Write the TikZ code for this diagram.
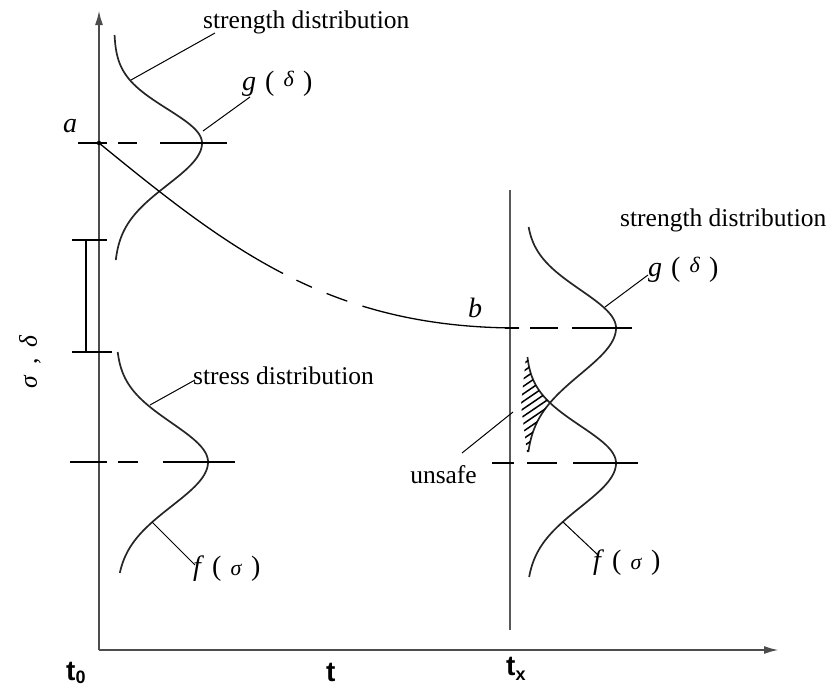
\documentclass[tikz,border=0pt]{standalone}
\usepackage{fontspec}
\setmainfont{Liberation Serif}
\newfontfamily\labsans{Liberation Sans}
\usetikzlibrary{arrows.meta}
\begin{document}
\begin{tikzpicture}[x=1pt,y=-1pt,
  axisline/.style={line width=2.2pt, draw=black!70},
  curve/.style={line width=1.7pt, draw=black!85},
  leader/.style={line width=1pt, draw=black},
  guide/.style={line width=1.5pt, draw=black},
  hatch/.style={line width=1.5pt, draw=black},
  lbl/.style={inner sep=0pt, font=\fontsize{25.5}{27}\selectfont},
  mlbl/.style={inner sep=0pt, font=\fontsize{28}{30}\selectfont},
  tlbl/.style={inner sep=0pt, font=\labsans\bfseries\fontsize{28}{30}\selectfont}
]
\useasboundingbox (0,0) rectangle (835,688);

% axes
\coordinate (O) at (99,650);
\coordinate (ytop) at (99,10);
\coordinate (xend) at (779,650);
\draw[axisline, -{Latex[length=15pt,width=8pt]}] (O) -- (ytop);
\draw[axisline, -{Latex[length=15pt,width=8pt]}] (O) -- (xend);

% vertical line at tx
\coordinate (txtop) at (510,190);
\coordinate (txbot) at (510,630);
\draw[line width=1.6pt, draw=black!65] (txtop) -- (txbot);

% left strength distribution g(delta)
\draw[curve] plot[domain=35:143, samples=60, variable=\y] ({114+88*exp(0-((\y-143)/34)*((\y-143)/34)/2)}, \y);
\draw[curve] plot[domain=143:260, samples=60, variable=\y] ({114+88*exp(0-((\y-143)/42)*((\y-143)/42)/2)}, \y);

% left stress distribution f(sigma)
\draw[curve] plot[domain=352:462, samples=60, variable=\y] ({116+92*exp(0-((\y-462)/39)*((\y-462)/39)/2)}, \y);
\draw[curve] plot[domain=462:573, samples=60, variable=\y] ({116+92*exp(0-((\y-462)/44)*((\y-462)/44)/2)}, \y);

% right strength distribution
\draw[curve] plot[domain=227:328, samples=60, variable=\y] ({526+90*exp(0-((\y-328)/38)*((\y-328)/38)/2)}, \y);
\draw[curve] plot[domain=328:452, samples=60, variable=\y] ({526+90*exp(0-((\y-328)/46)*((\y-328)/46)/2)}, \y);

% right stress distribution
\draw[curve] plot[domain=357:463, samples=60, variable=\y] ({526+90*exp(0-((\y-463)/37)*((\y-463)/37)/2)}, \y);
\draw[curve] plot[domain=463:577, samples=60, variable=\y] ({526+90*exp(0-((\y-463)/44)*((\y-463)/44)/2)}, \y);

% hatched unsafe region
\begin{scope}
\clip plot[domain=357:403, samples=30, variable=\y] ({526+90*exp(0-((\y-463)/37)*((\y-463)/37)/2)}, \y)
  -- plot[domain=403:452, samples=30, variable=\y] ({526+90*exp(0-((\y-328)/46)*((\y-328)/46)/2)}, \y)
  -- (527,453) -- (521,405) -- (526,356) -- cycle;
\foreach \k in {0,...,18}{
  \draw[hatch] (512,{364+7.5*\k}) -- (562,{330+7.5*\k});
}
\end{scope}

% dashed level lines
\draw[guide] (78,143) -- (107,143);
\draw[guide] (118,143) -- (137,143);
\draw[guide] (160,143) -- (227,143);

\draw[guide] (70,462) -- (107,462);
\draw[guide] (118,462) -- (138,462);
\draw[guide] (163,462) -- (235,462);

\draw[guide] (505,328) -- (519,328);
\draw[guide] (530,328) -- (558,328);
\draw[guide] (572,328) -- (632,328);

\draw[guide] (492,463) -- (514,463);
\draw[guide] (527,463) -- (557,463);
\draw[guide] (573,463) -- (638,463);

% interval marker
\draw[guide] (72,240) -- (107,240);
\draw[guide] (72,352) -- (112,352);
\draw[guide] (86,240) -- (86,352);

% degradation curve a -> b
\coordinate (pa) at (99,143);
\coordinate (pb) at (519,328);
\fill (pa) circle (2.2pt);
\draw[line width=1.3pt, dash pattern=on 226pt off 15pt on 17pt off 16pt on 22pt off 16pt on 400pt]
  (pa) .. controls (230,250) and (330,328) .. (pb);

% labels
\node[mlbl, anchor=base west] (la) at (63,132) {\textit{a}};
\node[mlbl, anchor=base west] (lb) at (468,317) {\textit{b}};

\node[lbl, anchor=base west] (sd1) at (203,28) {strength distribution};
\node[lbl, anchor=base west] (sd2) at (620,226) {strength distribution};
\node[lbl, anchor=base west] (st1) at (193,384) {stress distribution};
\node[lbl, anchor=base east] (uns) at (477,483) {unsafe};

\node[mlbl, anchor=base west] (g1) at (242,90) {\textit{g}\hspace{9pt}(\hspace{9pt}\raisebox{4pt}{\fontsize{22}{24}\selectfont\textit{δ}}\hspace{9pt})};
\node[mlbl, anchor=base west] (g2) at (648,276) {\textit{g}\hspace{9pt}(\hspace{9pt}\raisebox{4pt}{\fontsize{22}{24}\selectfont\textit{δ}}\hspace{9pt})};
\node[mlbl, anchor=base west] (f1) at (193,575) {\textit{f}\hspace{8pt}(\hspace{9pt}{\fontsize{22}{24}\selectfont\textit{σ}}\hspace{9pt})};
\node[mlbl, anchor=base west] (f2) at (593,569) {\textit{f}\hspace{8pt}(\hspace{9pt}{\fontsize{22}{24}\selectfont\textit{σ}}\hspace{9pt})};

\node[lbl, rotate=90] (ylab) at (30,362) {\textit{σ}\, , \,\textit{δ}};

\node[tlbl, anchor=base west] (t0) at (66,680) {t\raisebox{-3pt}{\fontsize{18}{20}\selectfont 0}};
\node[tlbl, anchor=base west] (tt) at (326,681) {t};
\node[tlbl, anchor=base west] (tx) at (506,675) {t\raisebox{-5pt}{\fontsize{18}{20}\selectfont x}};

% leader lines
\coordinate (c1) at (131,80);  \coordinate (e1) at (215,33);
\coordinate (c2) at (203,131); \coordinate (e2) at (250,97);
\coordinate (c3) at (150,405); \coordinate (e3) at (195,380);
\coordinate (c4) at (152,522); \coordinate (e4) at (195,565);
\coordinate (c5) at (605,307); \coordinate (e5) at (648,275);
\coordinate (c6) at (513,412); \coordinate (e6) at (462,453);
\coordinate (c7) at (563,522); \coordinate (e7) at (598,555);
\draw[leader] (c1) -- (e1);
\draw[leader] (c2) -- (e2);
\draw[leader] (c3) -- (e3);
\draw[leader] (c4) -- (e4);
\draw[leader] (c5) -- (e5);
\draw[leader] (c6) -- (e6);
\draw[leader] (c7) -- (e7);
\end{tikzpicture}
\end{document}
